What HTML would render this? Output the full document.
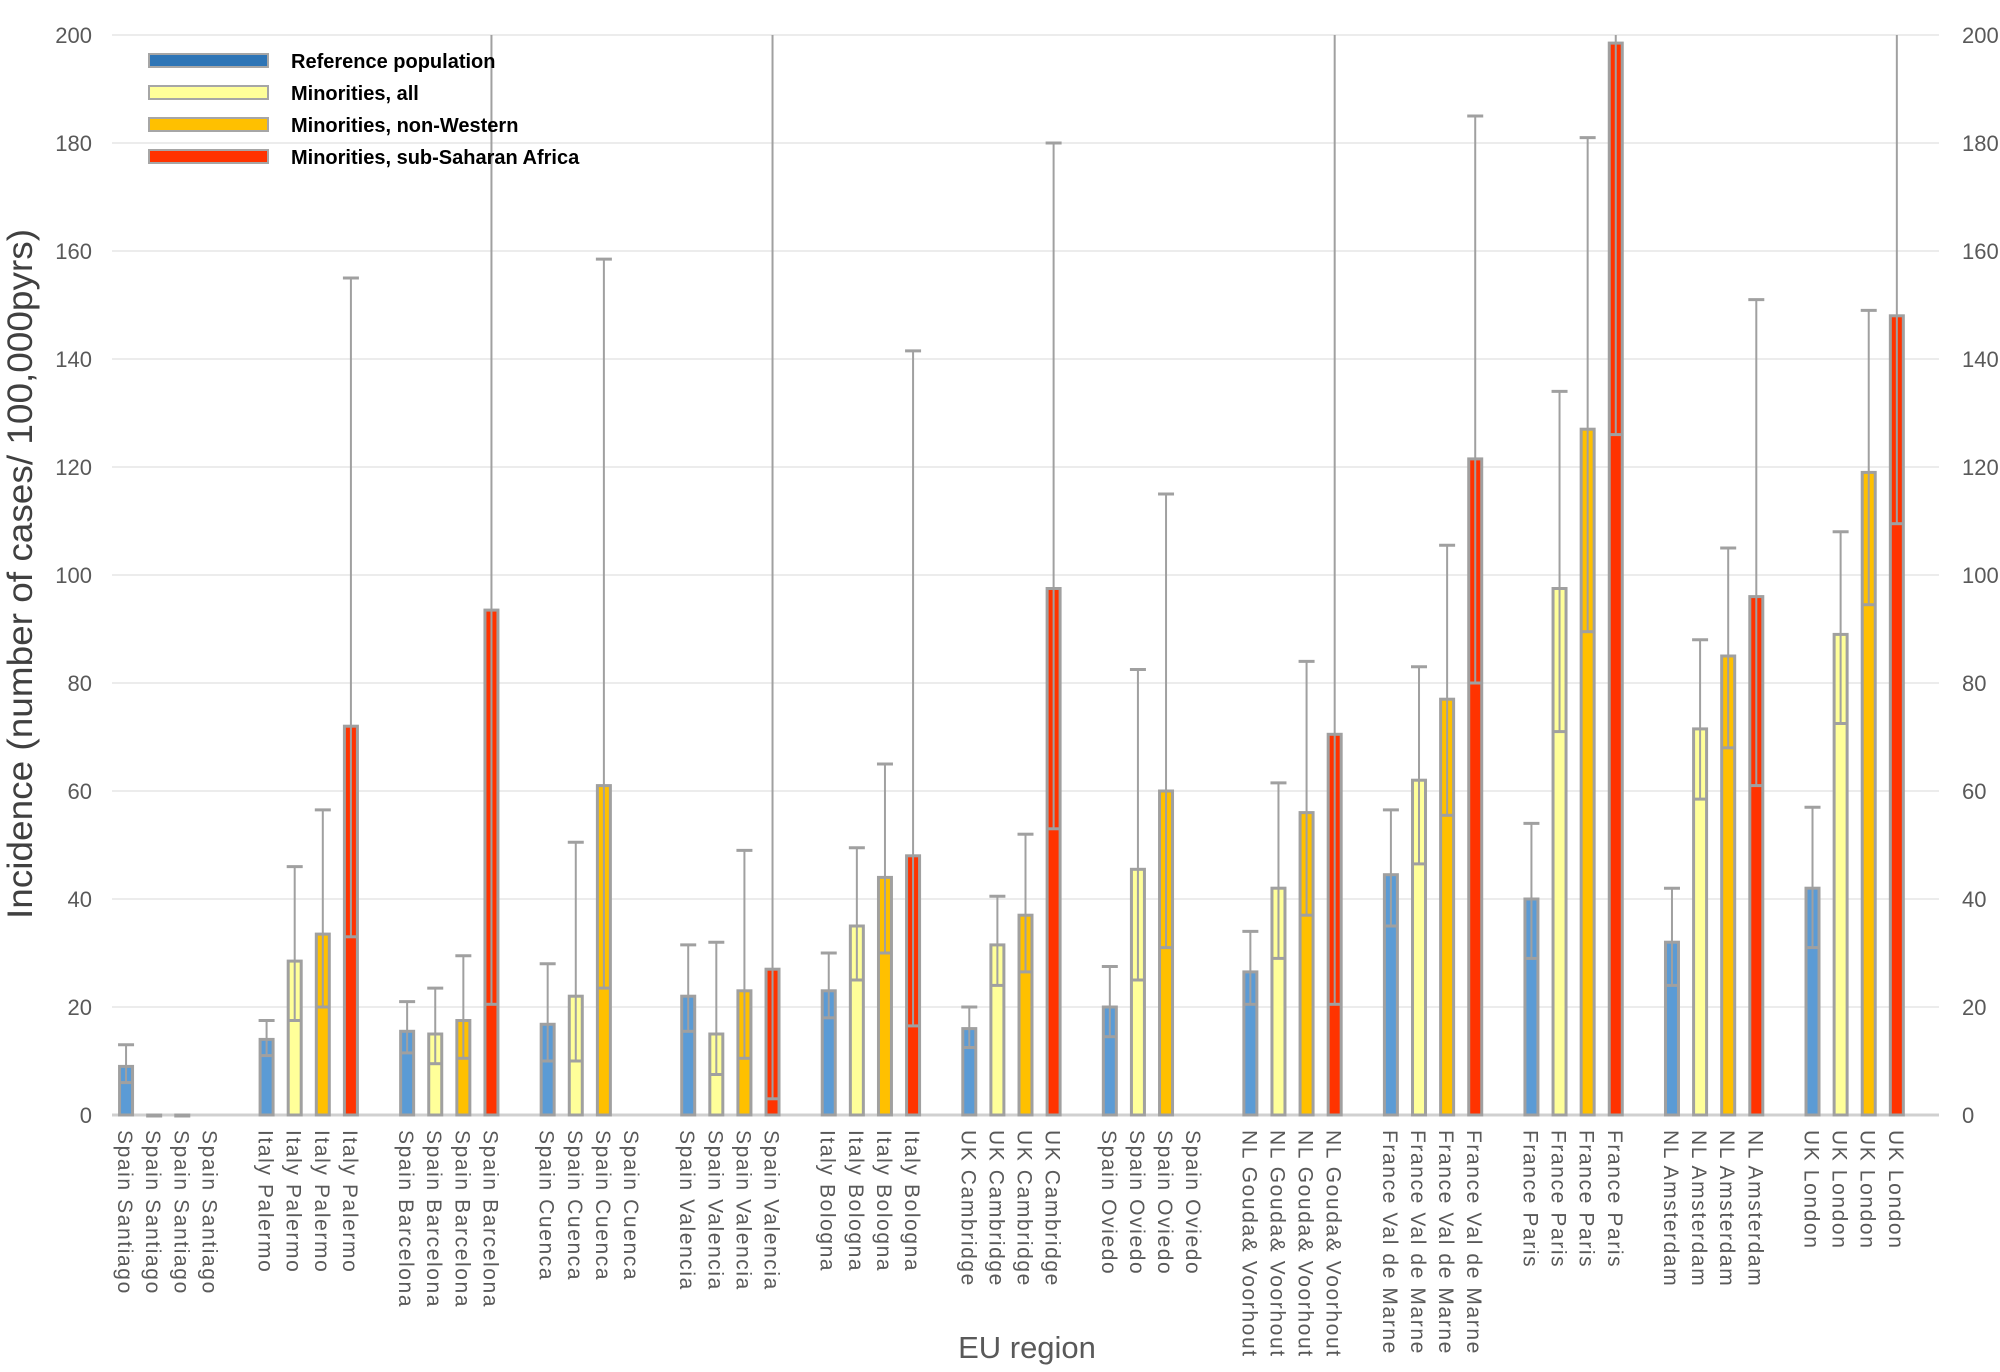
<!DOCTYPE html>
<html><head><meta charset="utf-8">
<style>
html,body{margin:0;padding:0;background:#fff;}
svg{display:block;font-family:"Liberation Sans",sans-serif;}
</style></head>
<body>
<svg id="chart" width="2000" height="1372" viewBox="0 0 2000 1372">
<g id="grid"></g>
<g id="bars"></g>
<g id="errs"></g>
<g id="yticks"></g>
<g id="xlabels"></g>
<text transform="translate(32,574) rotate(-90)" text-anchor="middle" font-size="35" fill="#404040" textLength="690" lengthAdjust="spacingAndGlyphs">Incidence (number of cases/ 100,000pyrs)</text>
<text x="1027" y="1358" text-anchor="middle" font-size="31" fill="#595959">EU region</text>
<g>
 <rect x="149" y="54" width="119" height="13" fill="#2e75b6" stroke="#a6a6a6" stroke-width="2"/>
 <text x="291" y="68" font-size="20" font-weight="bold">Reference population</text>
 <rect x="149" y="86" width="119" height="13" fill="#ffff99" stroke="#a6a6a6" stroke-width="2"/>
 <text x="291" y="100" font-size="20" font-weight="bold">Minorities, all</text>
 <rect x="149" y="118" width="119" height="13" fill="#ffc000" stroke="#a6a6a6" stroke-width="2"/>
 <text x="291" y="132" font-size="20" font-weight="bold">Minorities, non-Western</text>
 <rect x="149" y="150" width="119" height="13" fill="#ff3300" stroke="#a6a6a6" stroke-width="2"/>
 <text x="291" y="164" font-size="20" font-weight="bold">Minorities, sub-Saharan Africa</text>
</g>
</svg>
<script>
const regions = ["Spain Santiago","Italy Palermo","Spain Barcelona","Spain Cuenca","Spain Valencia","Italy Bologna","UK Cambridge","Spain Oviedo","NL Gouda& Voorhout","France Val de Marne","France Paris","NL Amsterdam","UK London"];
const refVals = [9,14,15.5,16.8,22,23,16,20,26.5,44.5,40,32,42];
const refLo = [6,11,11.5,10,15.5,18,12.5,14.5,20.5,35,29,24,31];
const refHi = [13,17.5,21,28,31.5,30,20,27.5,34,56.5,54,42,57];
const allVals = [0,28.5,15,22,15,35,31.5,45.5,42,62,97.5,71.5,89];
const allLo = [null,17.5,9.5,10,7.5,25,24,25,29,46.5,71,58.5,72.5];
const allHi = [null,46,23.5,50.5,32,49.5,40.5,82.5,61.5,83,134,88,108];
const nwVals = [0,33.5,17.5,61,23,44,37,60,56,77,127,85,119];
const nwLo = [null,20,10.5,23.5,10.5,30,26.5,31,37,55.5,89.5,68,94.5];
const nwHi = [null,56.5,29.5,158.5,49,65,52,115,84,105.5,181,105,149];
const ssaVals = [null,72,93.5,null,27,48,97.5,null,70.5,121.5,198.5,96,148];
const ssaLo = [null,33,20.5,null,3,16.5,53,null,20.5,80,126,61,109.5];
const ssaHi = [null,155,240,null,240,141.5,180,null,240,185,240,151,240];
const yTicks = [0,20,40,60,80,100,120,140,160,180,200];

const NS="http://www.w3.org/2000/svg";
const X0=112, X1=1939, Y0=1115, Y200=35, slots=65, slotW=(X1-X0)/slots, barW=13;
const y = v => Y0 - (Math.min(v,200))*(Y0-Y200)/200;
const xc = (g,k) => X0 + (g*5+k+0.5)*slotW;
function mk(tag,attrs,parent){const e=document.createElementNS(NS,tag);for(const k in attrs)e.setAttribute(k,attrs[k]);parent.appendChild(e);return e;}
const grid=document.getElementById('grid'), bars=document.getElementById('bars'), errs=document.getElementById('errs'), yt=document.getElementById('yticks'), xl=document.getElementById('xlabels');
yTicks.forEach(t=>{
  const l=mk('line',{x1:X0,x2:X1,y1:y(t),y2:y(t),stroke:t===0?'#d0d0d0':'#ececec','stroke-width':t===0?3:2},grid);
  
  
  const a=mk('text',{x:92,y:y(t)+8,'text-anchor':'end','font-size':22,fill:'#595959'},yt);a.textContent=t;
  
  
  const b=mk('text',{x:1962,y:y(t)+8,'text-anchor':'start','font-size':22,fill:'#595959'},yt);b.textContent=t;
  
  
});
const series=[[refVals,refLo,refHi,'#5b9bd5','reference'],[allVals,allLo,allHi,'#ffff99','all'],[nwVals,nwLo,nwHi,'#ffc000','nonwestern'],[ssaVals,ssaLo,ssaHi,'#ff3300','ssa']];
regions.forEach((r,g)=>{
  series.forEach(([v,lo,hi,col,nm],k)=>{
    const cx=xc(g,k);
    const lab=mk('text',{transform:`translate(${cx-8},1130) rotate(90)`,'font-size':21,'letter-spacing':'1.6',fill:'#595959'},xl);
    lab.textContent=r;
    
    
    if(v[g]===null) return;
    const top=y(v[g]);
    const rc=mk('rect',{x:cx-barW/2,y:top,width:barW,height:Math.max(Y0-top,1),fill:col,stroke:'#a0a0a0','stroke-width':3},bars);
    
    
    if(lo[g]!==null){
      const ln=mk('line',{x1:cx,x2:cx,y1:y(lo[g]),y2:y(hi[g]),stroke:'#a0a0a0','stroke-width':2},errs);
      
      
      mk('line',{x1:cx-6,x2:cx+6,y1:y(lo[g]),y2:y(lo[g]),stroke:'#a0a0a0','stroke-width':3},errs);
      if(hi[g]<=200) mk('line',{x1:cx-8,x2:cx+8,y1:y(hi[g]),y2:y(hi[g]),stroke:'#a0a0a0','stroke-width':3},errs);
    }
  });
});
</script>
</body></html>
